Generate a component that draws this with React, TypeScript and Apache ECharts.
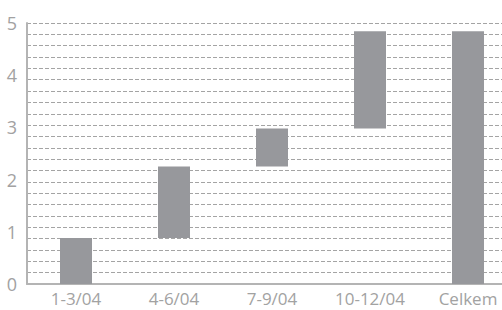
import React, { useEffect, useRef } from "react";
import * as echarts from "echarts";

const categories = ["1-3/04", "4-6/04", "7-9/04", "10-12/04", "Celkem"];
const bottoms = [0, 0.88, 2.25, 2.98, 0];
const tops = [0.88, 2.25, 2.98, 4.84, 4.84];
const yTicks = [0, 1, 2, 3, 4, 5];
const gridLineCount = 23;

export default function App() {
  const ref = useRef<HTMLDivElement>(null);
  useEffect(() => {
    if (!ref.current) return;
    const chart = echarts.init(ref.current, null, { renderer: "svg" });
    const grey = "#a2a2a2";
    chart.setOption({
      animation: false,
      grid: { left: 27, right: 0, top: 23, bottom: 26 },
      xAxis: {
        type: "category",
        data: categories,
        axisLine: { lineStyle: { color: "#b4b4b4", width: 2 } },
        axisTick: { show: false },
        axisLabel: { color: grey, fontSize: 17, fontFamily: "Open Sans", margin: 6 },
      },
      yAxis: [
        {
          type: "value",
          min: yTicks[0],
          max: yTicks[yTicks.length - 1],
          interval: 1,
          axisLine: { show: true, lineStyle: { color: "#b4b4b4", width: 2 } },
          axisTick: { show: false },
          axisLabel: { color: grey, fontSize: 18, fontFamily: "Open Sans", margin: 10 },
          splitLine: { show: false },
          z: 3,
        },
        {
          type: "value",
          min: 0,
          max: gridLineCount,
          interval: 1,
          position: "right",
          axisLine: { show: false },
          axisTick: { show: false },
          axisLabel: { show: false },
          splitLine: { show: true, lineStyle: { color: "#a4a4a4", type: [4, 2], width: 1 } },
        },
      ],
      series: [
        {
          type: "bar",
          stack: "w",
          data: bottoms,
          itemStyle: { color: "transparent" },
          barWidth: 32,
          silent: true,
        },
        {
          type: "bar",
          stack: "w",
          data: tops.map((t, i) => +(t - bottoms[i]).toFixed(3)),
          itemStyle: { color: "#97989c" },
          barWidth: 32,
        },
      ],
    });
    return () => chart.dispose();
  }, []);
  return (
    <div style={{ width: 502, height: 310, position: "absolute", left: 0, top: 0, overflow: "hidden" }}>
      <div ref={ref} style={{ width: 517, height: 310 }} />
    </div>
  );
}
